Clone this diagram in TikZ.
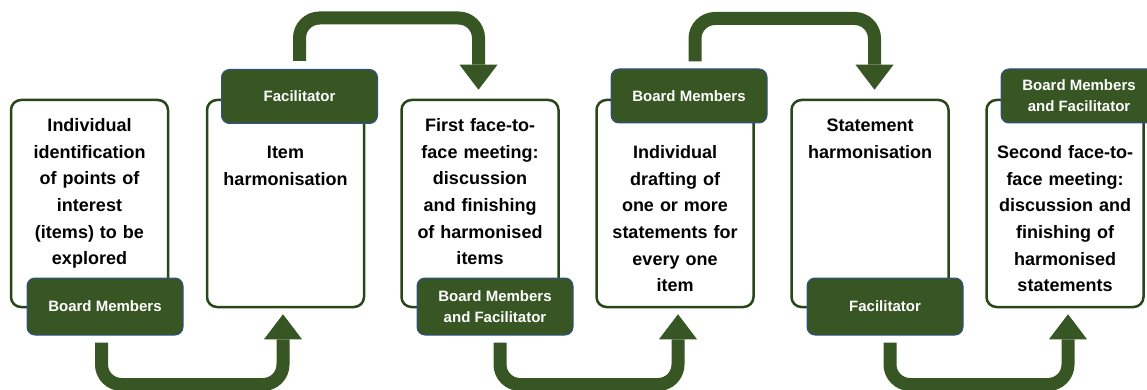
\documentclass[tikz,border=0pt]{standalone}
\usepackage{fontspec}
\setmainfont{Liberation Sans}
\usetikzlibrary{arrows.meta}
\definecolor{dgreen}{RGB}{56,86,35}
\definecolor{bordergreen}{RGB}{40,70,25}
\definecolor{lblue}{RGB}{47,82,143}
\tikzset{
  stepbox/.style={draw=bordergreen, line width=2.5pt, fill=white, rounded corners=10pt,
    minimum width=157pt, minimum height=207pt, inner sep=0pt},
  rolebox/.style={draw=lblue, line width=1pt, fill=dgreen, rounded corners=8pt,
    minimum width=156pt, inner sep=0pt, text=white, align=center,
    font=\fontsize{15pt}{21pt}\selectfont\bfseries},
  steptext/.style={text width=150pt, align=center, anchor=base, inner sep=0pt,
    font=\fontsize{18pt}{26.5pt}\selectfont\bfseries, text=black},
  flow/.style={draw=dgreen, line width=13pt, rounded corners=20pt,
    -{Triangle[length=25pt,width=38pt,line width=0pt]}}
}
\begin{document}
\begin{tikzpicture}[x=1pt,y=-1pt]
\useasboundingbox (0,0) rectangle (1147,390);
% step boxes
\node[stepbox] (box1) at (89.5,203.5) {};
\node[stepbox] (box2) at (285.5,203.5) {};
\node[stepbox] (box3) at (480,203.5) {};
\node[stepbox] (box4) at (675,203.5) {};
\node[stepbox] (box5) at (870,203.5) {};
\node[stepbox] (box6) at (1065,203.5) {};
% step texts
\node[steptext] (t1) at (89.5,132) {Individual\\identification\\of points of\\interest\\(items) to be\\explored};
\node[steptext] (t2) at (285.5,159) {Item\\harmonisation};
\node[steptext] (t3) at (480,132) {First face-to-\\face meeting:\\discussion\\and finishing\\of harmonised\\items};
\node[steptext] (t4) at (675,159) {Individual\\drafting of\\one or more\\statements for\\every one\\item};
\node[steptext] (t5) at (870,132) {Statement\\harmonisation};
\node[steptext] (t6) at (1065,159) {Second face-to-\\face meeting:\\discussion and\\finishing of\\harmonised\\statements};
% role labels
\node[rolebox, minimum height=57pt] (lab1) at (105,306.5) {Board Members};
\node[rolebox, minimum height=54pt] (lab2) at (299.5,96.5) {Facilitator};
\node[rolebox, minimum height=57pt] (lab3) at (495,306.5) {Board Members\\and Facilitator};
\node[rolebox, minimum height=54pt] (lab4) at (689,96) {Board Members};
\node[rolebox, minimum height=57pt] (lab5) at (885,306.5) {Facilitator};
\node[rolebox, minimum height=54pt] (lab6) at (1079,96) {Board Members\\and Facilitator};
% flow arrows
\draw[flow, shorten <=7pt, shorten >=6pt] ([xshift=-3.5pt]lab1.south) -- ++(0,49) -| ([xshift=-2.5pt]box2.south);
\draw[flow, shorten <=8pt, shorten >=9pt] (lab2.north) -- ++(0,-51) -| ([xshift=-1.5pt]box3.north);
\draw[flow, shorten <=7pt, shorten >=6pt] ([xshift=5pt]lab3.south) -- ++(0,49) -| ([xshift=3pt]box4.south);
\draw[flow, shorten <=7pt, shorten >=9pt] ([xshift=6pt]lab4.north) -- ++(0,-50) -| ([xshift=4.5pt]box5.north);
\draw[flow, shorten <=7pt, shorten >=6pt] ([xshift=5pt]lab5.south) -- ++(0,49) -| ([xshift=3pt]box6.south);
\end{tikzpicture}
\end{document}
